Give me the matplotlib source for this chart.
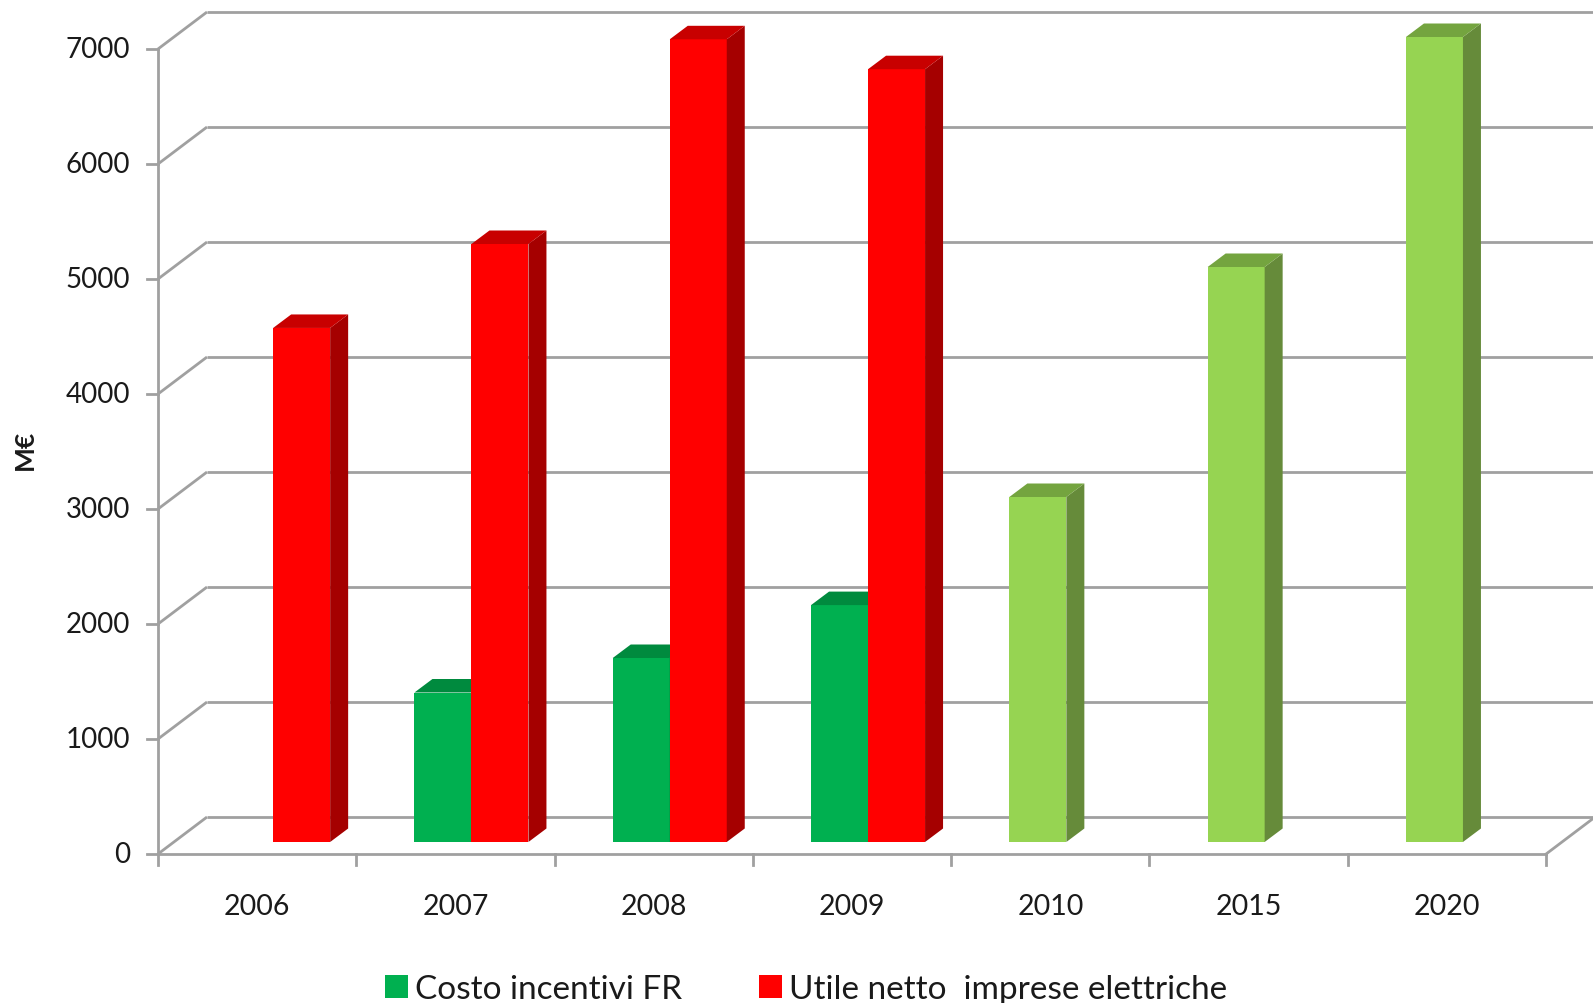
import matplotlib
matplotlib.use("Agg")
import matplotlib.pyplot as plt
from matplotlib.patches import Polygon, Patch

# ---------------- data ----------------
categories = ["2006", "2007", "2008", "2009", "2010", "2015", "2020"]
costo_incentivi = [None, 1300, 1600, 2060, 3000, 5000, 7000]   # Costo incentivi FR (M€)
costo_previsione = [False, False, False, False, True, True, True]  # projected years (light green)
utile_netto = [4470, 5200, 6980, 6720, None, None, None]       # Utile netto imprese elettriche (M€)
yticks = [0, 1000, 2000, 3000, 4000, 5000, 6000, 7000]
legend_labels = ["Costo incentivi FR", "Utile netto  imprese elettriche"]
ylabel = "M€"

# ---------------- styling ----------------
FONT = ["Lato", "DejaVu Sans"]
plt.rcParams["font.family"] = FONT
GRID = "#A0A0A0"
TEXT = "#1A1A1A"
C_GREEN = ("#00B050", "#008A3E", "#007A35")    # front, top, side
C_LGREEN = ("#96D452", "#74A43F", "#668B3A")
C_RED = ("#FF0000", "#C80000", "#A50000")

W, H = 1593, 1004
PXC = 198.3      # pixels per category
PXV = 0.1150     # pixels per value unit
X0, Y0 = 174, 843  # pixel position of data origin (bar plane)

fig = plt.figure(figsize=(W / 100, H / 100), dpi=100)
ax = fig.add_axes([0, 0, 1, 1])
ax.set_xlim(-X0 / PXC, (W - X0) / PXC)
ax.set_ylim((Y0 - H) / PXV, Y0 / PXV)
ax.axis("off")


def ox(px):
    return px / PXC


def oy(px_up):
    return px_up / PXV


fx, fy = ox(-16), oy(-12)   # front plane offset
bx, by = ox(33), oy(25)     # back plane offset
xmax = (W - X0) / PXC + 0.05
n = len(categories)
lw = 2.0

# gridlines, wall
for v in yticks:
    ax.plot([fx, bx], [v + fy, v + by], color=GRID, lw=lw, zorder=1, solid_capstyle="butt")
    ax.plot([bx, xmax], [v + by, v + by], color=GRID, lw=lw, zorder=1, solid_capstyle="butt")
    ax.plot([fx - ox(11), fx], [v + fy, v + fy], color=GRID, lw=lw, zorder=1)
    ax.text(fx - ox(28), v + fy, f"{v}", ha="right", va="center", fontsize=20, color=TEXT)
ax.plot([fx, fx], [fy, yticks[-1] + fy], color=GRID, lw=lw, zorder=1)

# floor front edge
ax.plot([fx, n + fx], [fy, fy], color=GRID, lw=lw, zorder=1)
ax.plot([n + fx, n + bx], [fy, by], color=GRID, lw=lw, zorder=1)
for i in range(n + 1):
    ax.plot([i + fx, i + fx], [fy, fy - oy(11)], color=GRID, lw=lw, zorder=1)
for i, c in enumerate(categories):
    ax.text(i + 0.5 + fx, fy - oy(52), c, ha="center", va="center", fontsize=20.5, color=TEXT)

# bars
w = 57 / PXC
ddx, ddy = ox(18), oy(13.5)
z = 5


def bar3d(x, h, cols, z):
    ax.bar([x], [h], width=w, align="edge", color=cols[0], edgecolor="none", zorder=z)
    side = Polygon([(x + w, 0), (x + w + ddx, ddy), (x + w + ddx, h + ddy), (x + w, h)],
                   closed=True, facecolor=cols[2], edgecolor="none", zorder=z)
    top = Polygon([(x, h), (x + w, h), (x + w + ddx, h + ddy), (x + ddx, h + ddy)],
                  closed=True, facecolor=cols[1], edgecolor="none", zorder=z)
    ax.add_patch(side)
    ax.add_patch(top)


for i in range(n):
    if costo_incentivi[i] is not None:
        cols = C_LGREEN if costo_previsione[i] else C_GREEN
        bar3d(i + 0.5 - w, costo_incentivi[i], cols, z)
        z += 1
    if utile_netto[i] is not None:
        bar3d(i + 0.5, utile_netto[i], C_RED, z)
        z += 1

# y label
ax.text(-X0 / PXC + ox(25), (Y0 - 450) / PXV, ylabel, rotation=90, ha="center", va="center",
        fontsize=19, fontweight="bold", color=TEXT)

# legend
handles = [Patch(facecolor=C_GREEN[0], edgecolor="none"), Patch(facecolor=C_RED[0], edgecolor="none")]
fig.legend(handles, legend_labels, loc="center", bbox_to_anchor=(806 / W, 1 - 990 / H),
           ncol=2, frameon=False, fontsize=24, handlelength=0.7, handleheight=0.7,
           handletextpad=0.2, columnspacing=2.3, labelcolor=TEXT)

fig.savefig("out.png", dpi=100)
